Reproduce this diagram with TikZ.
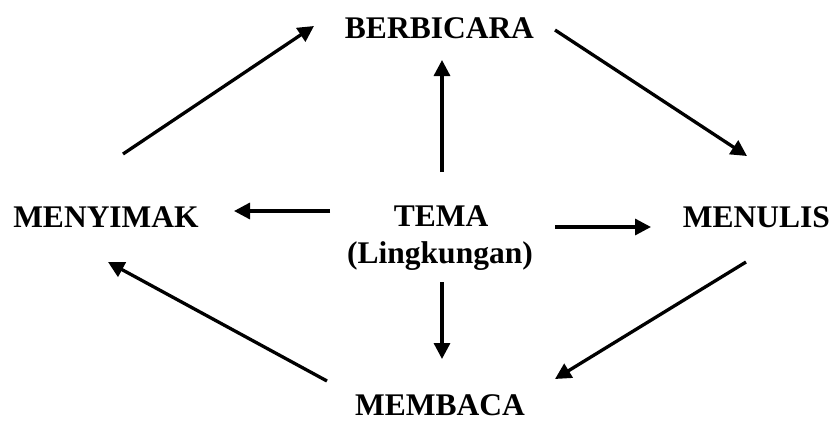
\documentclass[tikz,border=0pt]{standalone}
\usepackage{fontspec}
\setmainfont{Liberation Serif}
\usetikzlibrary{arrows.meta}
\begin{document}
\begin{tikzpicture}[x=1pt,y=-1pt,
  lbl/.style={font=\fontsize{31.5}{37}\selectfont\bfseries, inner sep=0pt, anchor=base},
  arr/.style={line width=3.3pt, -{Triangle[length=16pt,width=16pt]}}]
\useasboundingbox (0,0) rectangle (835,421);
\node[lbl] (b) at (439.5,38) {BERBICARA};
\node[lbl] (l) at (106,227) {MENYIMAK};
\node[lbl] (w) at (756.5,227) {MENULIS};
\node[lbl] (t) at (441,226) {TEMA};
\node[lbl] (t2) at (440,263) {(Lingkungan)};
\node[lbl] (m) at (440,415) {MEMBACA};
\coordinate (a1s) at (123,154); \coordinate (a1e) at (314,26);
\coordinate (a2s) at (442,172); \coordinate (a2e) at (442,60);
\coordinate (a3s) at (555,30); \coordinate (a3e) at (747,156);
\coordinate (a4s) at (555,227); \coordinate (a4e) at (651,227);
\coordinate (a5s) at (330,211); \coordinate (a5e) at (234,211);
\coordinate (a6s) at (442,282); \coordinate (a6e) at (442,359);
\coordinate (a7s) at (746,262); \coordinate (a7e) at (555,379);
\coordinate (a8s) at (327,381); \coordinate (a8e) at (108,262);
\foreach \i in {1,...,8} \draw[arr] (a\i s) -- (a\i e);
\end{tikzpicture}
\end{document}
